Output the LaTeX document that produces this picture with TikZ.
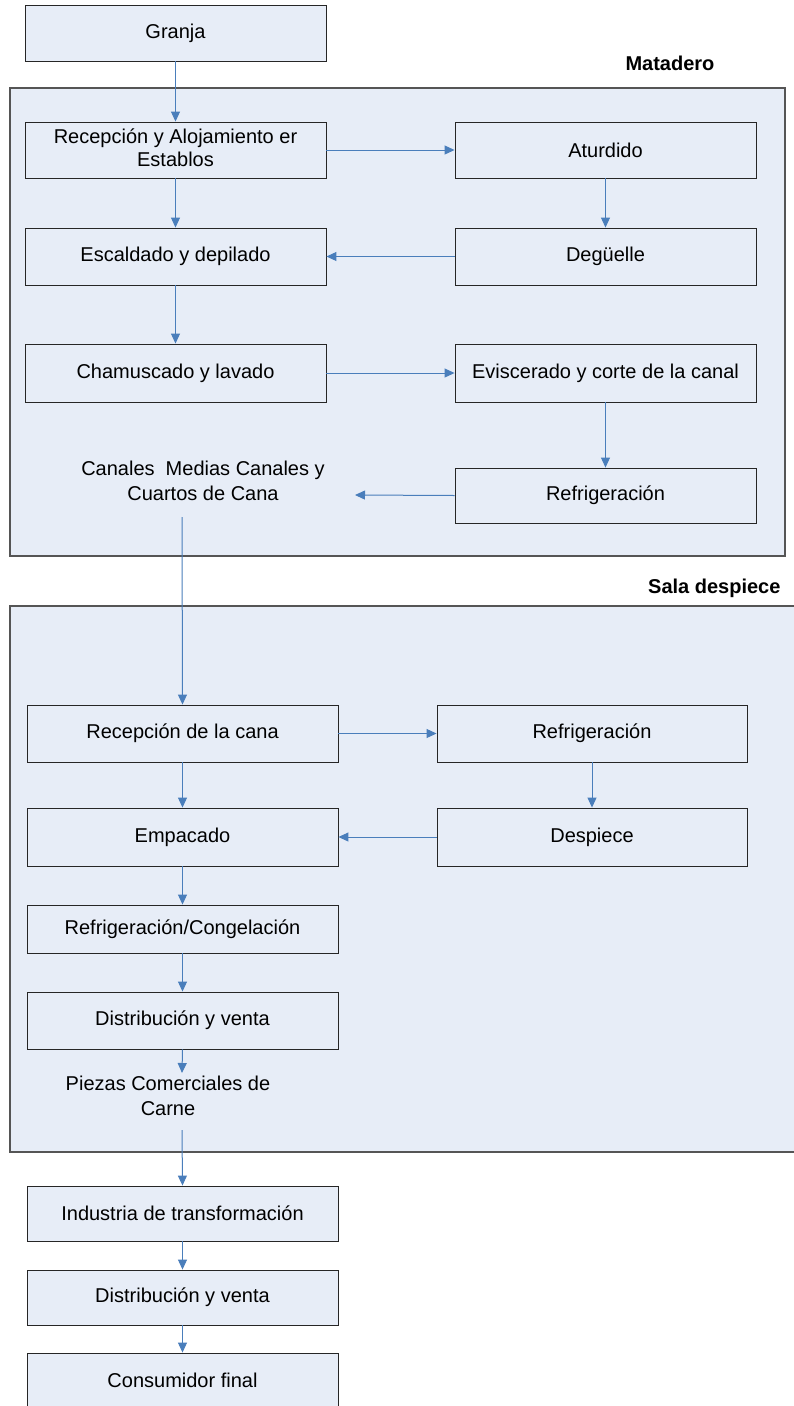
\documentclass[tikz,border=0pt]{standalone}
\usepackage{fontspec}
\setmainfont{Liberation Sans}
\usetikzlibrary{arrows.meta}
\definecolor{boxfill}{HTML}{E7EDF7}
\definecolor{arrblue}{HTML}{4A7EBB}
\definecolor{framegray}{HTML}{555555}
\begin{document}
\begin{tikzpicture}[x=1pt,y=-1pt,
  container/.style={draw=framegray,line width=1.1pt,fill=boxfill},
  stepbox/.style={draw=black!85,line width=0.9pt,fill=boxfill,minimum height=#1,inner sep=0pt,align=center,font=\fontsize{20}{23}\selectfont},
  stepbox/.default=56pt,
  plain/.style={align=center,font=\fontsize{20}{25}\selectfont,inner sep=0pt},
  heading/.style={font=\bfseries\fontsize{20}{22}\selectfont,inner sep=0pt},
  flow/.style={draw=arrblue,line width=1pt,-{Triangle[length=10pt,width=9pt]}},
  link/.style={draw=arrblue,line width=1pt}]
\useasboundingbox (0,0) rectangle (793,1406);
\fill[white] (0,0) rectangle (793,1406);
% containers
\draw[container] (10,88) rectangle (785,556);
\draw[container] (10,606) rectangle (800,1152);
\node[heading] (matadero) at (670,63) {Matadero};
\node[heading,anchor=west] (sala) at (648,588) {Sala despiece};
% Matadero boxes
\node[stepbox,minimum width=301pt] (granja) at (175.5,33) {Granja};
\node[stepbox,minimum width=301pt] (recep) at (175.5,150) {\raisebox{1pt}{\begin{tabular}{@{}c@{}}Recepción y Alojamiento er\\Establos\end{tabular}}};
\node[stepbox,minimum width=301pt] (aturd) at (605.5,150) {Aturdido};
\node[stepbox=57pt,minimum width=301pt] (escal) at (175.5,256.5) {Escaldado y depilado};
\node[stepbox=57pt,minimum width=301pt] (degue) at (605.5,256.5) {Degüelle};
\node[stepbox=58pt,minimum width=301pt] (chamu) at (175.5,373) {Chamuscado y lavado};
\node[stepbox=58pt,minimum width=301pt] (evisc) at (605.5,373) {Eviscerado y corte de la canal};
\node[stepbox=55pt,minimum width=301pt] (refri1) at (605.5,495.5) {Refrigeración};
\node[plain] (canales) at (203,481) {Canales\ \ Medias Canales y\\Cuartos de Cana};
\coordinate (canin) at (355,495);
\coordinate (canout) at (182,517);
% Sala despiece boxes
\node[stepbox=57pt,minimum width=311pt] (rcanal) at (182.5,733.5) {Recepción de la cana};
\node[stepbox=57pt,minimum width=310pt] (refri2) at (592,733.5) {Refrigeración};
\node[stepbox=58pt,minimum width=311pt] (empac) at (182.5,837) {Empacado};
\node[stepbox=58pt,minimum width=310pt] (despi) at (592,837) {Despiece};
\node[stepbox=48pt,minimum width=311pt] (congel) at (182.5,929) {Refrigeración/Congelación};
\node[stepbox=57pt,minimum width=311pt] (distr1) at (182.5,1020.5) {Distribución y venta};
\node[plain] (piezas) at (168,1096) {Piezas Comerciales de\\Carne};
\coordinate (piezin) at (182,1073);
\coordinate (piezout) at (182,1130);
% bottom boxes
\node[stepbox=55pt,minimum width=311pt] (indus) at (182.5,1213.5) {Industria de transformación};
\node[stepbox=55pt,minimum width=311pt] (distr2) at (182.5,1297.5) {Distribución y venta};
\node[stepbox=68pt,minimum width=311pt] (consu) at (182.5,1387) {};
\node[plain] (consutxt) at (182.5,1380) {Consumidor final};
% connectors
\draw[flow] (granja.south) -- (recep.north);
\draw[flow] (recep.east) -- (aturd.west);
\draw[flow] (recep.south) -- (escal.north);
\draw[flow] (aturd.south) -- (degue.north);
\draw[flow] (degue.west) -- (escal.east);
\draw[flow] (escal.south) -- (chamu.north);
\draw[flow] (chamu.east) -- (evisc.west);
\draw[flow] (evisc.south) -- (refri1.north);
\draw[flow] (refri1.west) -- (canin);
\draw[flow] (canout) -- (rcanal.north);
\draw[flow] (rcanal.east) -- (refri2.west);
\draw[flow] (rcanal.south) -- (empac.north);
\draw[flow] (refri2.south) -- (despi.north);
\draw[flow] (despi.west) -- (empac.east);
\draw[flow] (empac.south) -- (congel.north);
\draw[flow] (congel.south) -- (distr1.north);
\draw[flow] (distr1.south) -- (piezin);
\draw[flow] (piezout) -- (indus.north);
\draw[flow] (indus.south) -- (distr2.north);
\draw[flow] (distr2.south) -- (consu.north);
\end{tikzpicture}
\end{document}
